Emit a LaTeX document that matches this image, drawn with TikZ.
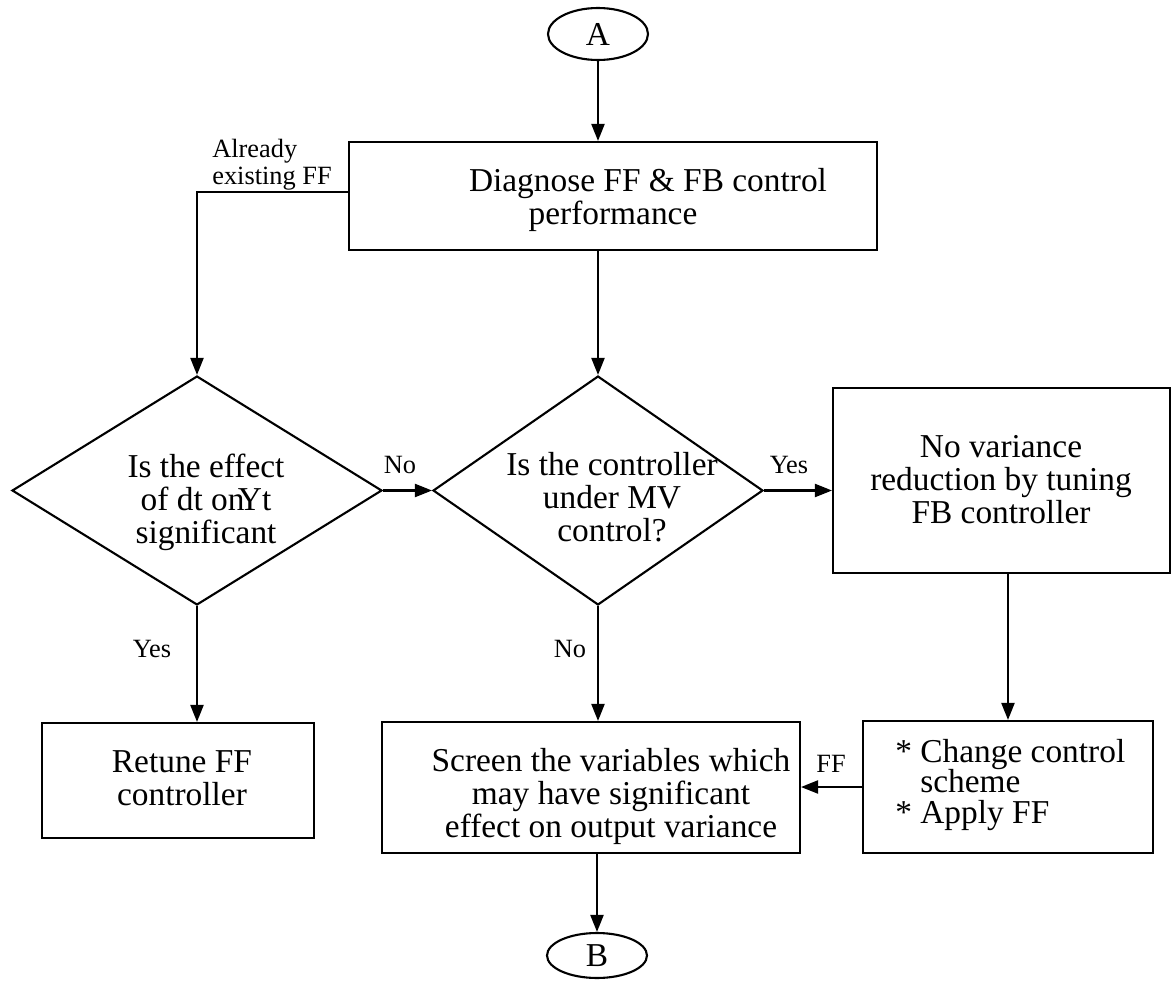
\documentclass[tikz,border=0pt]{standalone}
\usepackage{fontspec}
\setmainfont{Liberation Serif}
\usetikzlibrary{arrows.meta,shapes.geometric,calc}
\begin{document}
\begin{tikzpicture}[x=0.02cm,y=-0.02cm,
  every node/.style={inner sep=0pt},
  arr/.style={line width=1.2pt,-{Triangle[length=0.34cm,width=0.26cm]}},
  procbox/.style={draw,line width=1.2pt},
  decision/.style={draw,diamond,line width=1.2pt,inner sep=0pt},
  term/.style={draw,ellipse,line width=1.2pt},
  maintext/.style={font={\fontsize{19}{18.8}\selectfont}},
  lbl/.style={font={\fontsize{15}{15.5}\selectfont}}
]
\useasboundingbox (0,0) rectangle (1171,987);
% terminals
\node[term,minimum width=2cm,minimum height=1.04cm,maintext] (A) at (598,34) {A};
\node[term,minimum width=2cm,minimum height=0.9cm,maintext] (B) at (597,955.5) {B};
% boxes
\node[procbox,minimum width=10.56cm,minimum height=2.16cm] (diag) at (613,196) {};
\node[maintext,align=center] (diagt) at (648,200) {Diagnose FF \& FB control\\\hbox{performance\hspace{1.4cm}}};
\node[decision,minimum width=7.4cm,minimum height=4.58cm] (d1) at (197,490.5) {};
\node[maintext,align=center] (d1t) at (206,502) {Is the effect\\of dt on\kern-0.2em Yt\\significant};
\node[decision,minimum width=6.6cm,minimum height=4.58cm] (d2) at (598,490.5) {};
\node[maintext,align=center] (d2t) at (612,497) {Is the controller\\under MV\\control?};
\node[procbox,minimum width=6.74cm,minimum height=3.7cm] (novar) at (1001.5,480.5) {};
\node[maintext,align=center] (novart) at (1001,480) {No variance\\reduction by tuning\\FB controller};
\node[procbox,minimum width=5.44cm,minimum height=2.3cm] (retune) at (178,780.5) {};
\node[maintext,align=center] (retunet) at (182,778) {Retune FF\\controller};
\node[procbox,minimum width=8.36cm,minimum height=2.62cm] (screen) at (591,787.5) {};
\node[maintext,align=center] (screent) at (611,796) {Screen the variables which\\may have significant\\effect on output variance};
\node[procbox,minimum width=5.8cm,minimum height=2.64cm] (change) at (1008,787) {};
\node[font={\fontsize{19}{17.5}\selectfont\lineskiplimit=-20pt},align=left,anchor=west] (changet) at (895,785) {* Change control\\\phantom{* }scheme\\* Apply FF};
% labels
\node[lbl,align=left,anchor=south west] (lalready) at (212,191) {Already\\existing FF};
\node[lbl,anchor=base] (lno1) at (400,473) {No};
\node[lbl,anchor=base] (lyes1) at (789,473) {Yes};
\node[lbl,anchor=base] (lyes2) at (152,657) {Yes};
\node[lbl,anchor=base] (lno2) at (570,657) {No};
\node[lbl,anchor=base] (lff) at (831,772) {FF};
% connectors
\draw[arr] (A.south) -- (A.south |- diag.north);
\draw[arr] ($(diag.north west)!0.463!(diag.south west)$) -| (d1.north);
\draw[arr] (d2.north |- diag.south) -- (d2.north);
\draw[arr] (d1.east) -- (d2.west);
\draw[arr] (d2.east) -- (d2.east -| novar.west);
\draw[arr] (d1.south) -- (d1.south |- retune.north);
\draw[arr] (d2.south) -- (d2.south |- screen.north);
\draw[arr] (change.north |- novar.south) -- (change.north);
\draw[arr] (change.west) -- (change.west -| screen.east);
\draw[arr] (B.north |- screen.south) -- (B.north);
\end{tikzpicture}
\end{document}
